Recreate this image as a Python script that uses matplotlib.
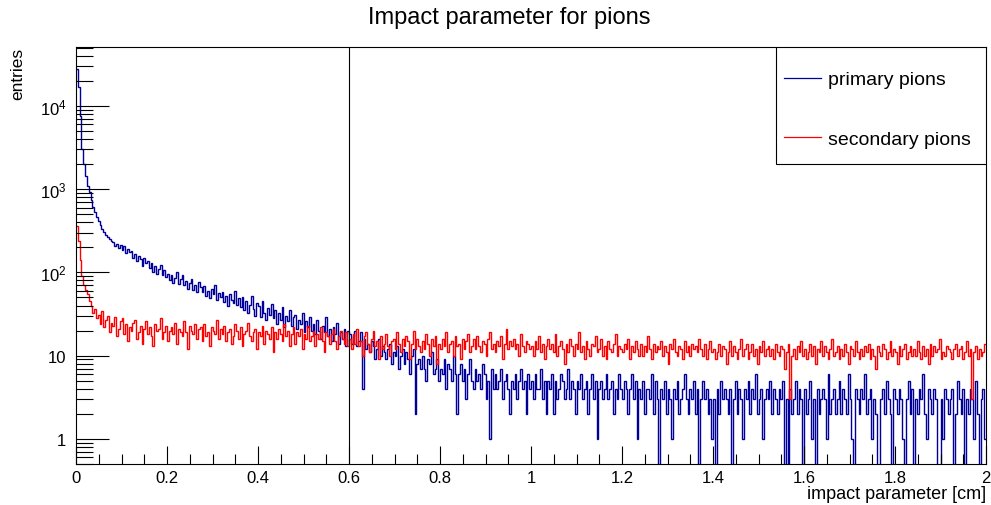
import numpy as np
import matplotlib
matplotlib.use("Agg")
import matplotlib.pyplot as plt
from matplotlib.patches import Rectangle
from matplotlib.ticker import FixedLocator, LogLocator, NullFormatter, MultipleLocator, FuncFormatter

plt.rcParams['font.family'] = ['Liberation Sans', 'DejaVu Sans']
plt.rcParams['mathtext.fontset'] = 'custom'
plt.rcParams['mathtext.rm'] = 'Liberation Sans'

# histogram binning: 500 bins between 0 and 2 cm
x_min, x_max, n_bins = 0.0, 2.0, 500
cut_value = 0.6

# bin contents, 10 bins (0.04 cm) per line
primary_counts = [
    28000, 17000, 7500, 3000, 2000, 1450, 1100, 920, 740, 610,
    530, 460, 415, 370, 330, 305, 280, 265, 250, 238,
    232, 208, 221, 196, 214, 188, 205, 172, 191, 176,
    182, 150, 168, 139, 157, 146, 121, 149, 128, 137,
    114, 131, 102, 118, 96, 111, 124, 92, 106, 88,
    97, 80, 92, 75, 86, 101, 72, 84, 93, 70,
    78, 64, 74, 83, 61, 70, 58, 76, 66, 59,
    68, 52, 60, 49, 64, 55, 71, 47, 57, 51,
    58, 44, 52, 40, 55, 47, 43, 60, 41, 49,
    38, 50, 35, 45, 33, 41, 52, 36, 30, 43,
    39, 29, 45, 33, 27, 37, 31, 42, 28, 35,
    24, 33, 27, 38, 22, 30, 26, 35, 23, 29,
    31, 21, 27, 24, 33, 19, 26, 22, 29, 20,
    24, 18, 27, 20, 16, 23, 19, 29, 17, 21,
    15, 22, 18, 25, 14, 19, 16, 21, 13, 20,
    18, 14, 17, 20, 13, 15, 19, 4, 16, 12,
    14, 11, 15, 13, 9, 12, 16, 10, 13, 11,
    9, 12, 14, 8, 11, 10, 13, 7, 10, 12,
    8, 11, 9, 6, 10, 12, 2, 8, 9, 7,
    10, 7, 5, 9, 8, 11, 6, 7, 9, 5,
    7, 6, 9, 4, 8, 7, 5, 10, 6, 2,
    6, 8, 5, 7, 3, 6, 9, 5, 4, 7,
    5, 6, 4, 8, 6, 3, 5, 1, 7, 4,
    6, 4, 5, 7, 3, 5, 6, 4, 2, 5,
    4, 6, 3, 5, 7, 4, 5, 2, 6, 4,
    5, 3, 6, 4, 4, 7, 3, 5, 2, 5,
    4, 6, 2, 5, 3, 4, 6, 5, 3, 4,
    7, 3, 5, 4, 2, 5, 4, 6, 3, 4,
    5, 2, 4, 6, 3, 5, 1, 4, 5, 3,
    4, 6, 3, 4, 5, 2, 4, 3, 6, 4,
    3, 5, 4, 2, 4, 6, 3, 5, 1, 4,
    3, 5, 2, 4, 4, 3, 6, 2, 5, 3,
    0, 4, 3, 5, 2, 4, 3, 1, 4, 3,
    5, 2, 3, 4, 6, 3, 2, 4, 3, 5,
    2, 4, 0, 3, 5, 3, 4, 2, 3, 1,
    3, 0, 4, 2, 5, 3, 4, 3, 2, 4,
    0, 3, 5, 2, 4, 3, 1, 4, 3, 5,
    2, 4, 3, 6, 2, 3, 4, 1, 3, 4,
    3, 5, 2, 4, 3, 2, 4, 3, 5, 0,
    3, 0, 4, 2, 3, 5, 2, 4, 3, 0,
    4, 2, 3, 5, 1, 3, 0, 4, 2, 3,
    4, 3, 1, 6, 2, 3, 4, 2, 3, 5,
    2, 4, 3, 2, 6, 3, 1, 0, 4, 3,
    2, 4, 3, 6, 2, 3, 4, 1, 3, 2,
    0, 0, 3, 4, 2, 5, 3, 2, 0, 4,
    3, 2, 4, 3, 1, 0, 3, 5, 2, 4,
    0, 3, 2, 4, 3, 6, 2, 1, 4, 3,
    2, 4, 3, 0, 0, 3, 1, 4, 3, 2,
    3, 4, 0, 2, 5, 3, 2, 4, 0, 3,
    2, 4, 3, 1, 5, 2, 0, 3, 4, 1,
]

secondary_counts = [
    360, 240, 140, 90, 70, 62, 55, 45, 40, 33,
    36, 28, 31, 24, 34, 22, 27, 30, 19, 25,
    23, 29, 17, 21, 26, 28, 18, 24, 15, 22,
    20, 25, 27, 16, 19, 23, 14, 21, 26, 18,
    22, 17, 13, 24, 20, 21, 28, 16, 19, 23,
    15, 20, 22, 18, 25, 14, 21, 19, 17, 26,
    19, 12, 23, 20, 18, 24, 16, 21, 22, 15,
    24, 17, 19, 13, 22, 20, 18, 27, 16, 21,
    18, 23, 15, 19, 21, 14, 17, 24, 20, 16,
    22, 13, 18, 20, 25, 17, 15, 19, 21, 12,
    19, 17, 23, 14, 20, 18, 16, 22, 11, 19,
    16, 21, 18, 15, 24, 17, 20, 13, 18, 22,
    14, 19, 17, 21, 12, 18, 16, 23, 15, 17,
    20, 13, 18, 16, 22, 15, 11, 19, 17, 14,
    18, 21, 15, 12, 17, 20, 16, 14, 19, 13,
    16, 12, 18, 14, 21, 13, 15, 10, 17, 19,
    14, 11, 16, 20, 13, 15, 9, 17, 12, 14,
    18, 13, 10, 15, 16, 12, 19, 14, 11, 16,
    13, 17, 15, 9, 14, 20, 12, 16, 13, 11,
    15, 12, 18, 14, 10, 16, 13, 17, 8, 14,
    12, 16, 13, 19, 11, 14, 15, 10, 17, 13,
    14, 9, 16, 12, 15, 18, 11, 13, 16, 12,
    17, 13, 11, 15, 14, 10, 16, 19, 12, 14,
    11, 15, 13, 17, 9, 14, 21, 12, 15, 13,
    16, 12, 14, 10, 18, 13, 11, 15, 14, 12,
    13, 10, 15, 12, 17, 11, 14, 9, 13, 16,
    12, 14, 11, 18, 10, 13, 15, 12, 8, 14,
    11, 16, 13, 10, 14, 12, 19, 11, 13, 9,
    15, 12, 10, 14, 13, 17, 11, 12, 16, 10,
    13, 9, 15, 12, 11, 14, 18, 10, 13, 12,
    11, 14, 12, 16, 9, 13, 11, 15, 12, 10,
    14, 10, 13, 11, 17, 12, 9, 14, 11, 13,
    12, 15, 10, 13, 11, 8, 14, 12, 16, 11,
    10, 13, 12, 9, 15, 11, 13, 10, 14, 12,
    13, 11, 16, 12, 10, 14, 9, 12, 15, 11,
    12, 9, 11, 14, 10, 13, 12, 8, 11, 15,
    10, 13, 11, 9, 12, 16, 10, 12, 14, 9,
    11, 14, 10, 12, 8, 13, 11, 15, 10, 12,
    13, 10, 12, 9, 14, 11, 10, 13, 12, 7,
    11, 14, 3, 10, 12, 9, 13, 11, 15, 10,
    12, 9, 11, 14, 10, 13, 8, 12, 11, 15,
    10, 13, 11, 9, 12, 16, 10, 11, 13, 9,
    12, 10, 14, 11, 8, 13, 12, 10, 15, 11,
    9, 12, 10, 13, 11, 14, 9, 12, 10, 7,
    13, 11, 10, 14, 12, 9, 11, 15, 10, 12,
    11, 8, 13, 10, 12, 14, 9, 11, 13, 10,
    12, 10, 15, 11, 9, 13, 10, 12, 8, 14,
    10, 13, 11, 12, 16, 9, 11, 10, 13, 12,
    11, 9, 12, 14, 10, 12, 13, 9, 11, 15,
    10, 12, 3, 11, 13, 9, 12, 10, 11, 14,
]

y_ticks = [1, 10, 100, 1000, 10000]
y_tick_labels = ['1', '10', r'$\mathregular{10^{2}}$', r'$\mathregular{10^{3}}$', r'$\mathregular{10^{4}}$']

edges = np.linspace(x_min, x_max, n_bins + 1)
primary = np.array(primary_counts, dtype=float)
secondary = np.array(secondary_counts, dtype=float)

fig = plt.figure(figsize=(9.91, 5.06), dpi=100)
ax = fig.add_axes([76 / 991, 1 - 465 / 506, 910 / 991, 417 / 506])

# empty bins go below the visible range, like ROOT does on a log axis
ax.stairs(np.where(primary > 0, primary, 1e-3), edges, color='#000099', lw=1.0,
          baseline=None, label='primary pions')
ax.stairs(np.where(secondary > 0, secondary, 1e-3), edges, color='#ff0000', lw=1.0,
          baseline=None, label='secondary pions')
ax.axvline(cut_value, color='black', lw=0.8)

ax.set_yscale('log')
ax.set_xlim(x_min, x_max)
ax.set_ylim(0.5, 5.1e4)

ax.xaxis.set_major_locator(MultipleLocator(0.2))
ax.xaxis.set_minor_locator(MultipleLocator(0.05))
ax.xaxis.set_major_formatter(FuncFormatter(lambda v, p: f"{v:g}"))
ax.yaxis.set_major_locator(FixedLocator(y_ticks))
ax.set_yticklabels(y_tick_labels)
ax.yaxis.set_minor_locator(LogLocator(base=10, subs=np.arange(2, 10)))
ax.yaxis.set_minor_formatter(NullFormatter())

ax.tick_params(axis='x', which='major', direction='in', length=13, width=0.8, labelsize=12, pad=4)
ax.tick_params(axis='x', which='minor', direction='in', length=7, width=0.8)
ax.tick_params(axis='y', which='major', direction='in', length=24, width=0.8, labelsize=12, pad=7)
ax.tick_params(axis='y', which='minor', direction='in', length=12, width=0.8)
for s in ax.spines.values():
    s.set_linewidth(0.8)

fig.text(509 / 991, 1 - 18 / 506, 'Impact parameter for pions', ha='center', va='center', fontsize=17)
fig.text(986 / 991, 1 - 486 / 506, 'impact parameter [cm]', ha='right', va='top', fontsize=13)
fig.text(18 / 991, 1 - 48 / 506, 'entries', ha='center', va='top', rotation=90, fontsize=12.5)

# legend box in the top right corner of the frame
ax.add_patch(Rectangle((0.7692, 0.7194), 0.2308, 0.2806, transform=ax.transAxes,
                       facecolor='white', edgecolor='black', lw=0.8, zorder=5))
leg = ax.legend(loc='upper left', bbox_to_anchor=(0.7785, 0.943), fontsize=14, frameon=False,
                borderaxespad=0, borderpad=0, labelspacing=2.15,
                handlelength=1.9, handletextpad=0.36)
leg.set_zorder(6)
for h in leg.get_lines():
    h.set_linewidth(0.9)

fig.savefig('out.png', dpi=100, facecolor='white')
